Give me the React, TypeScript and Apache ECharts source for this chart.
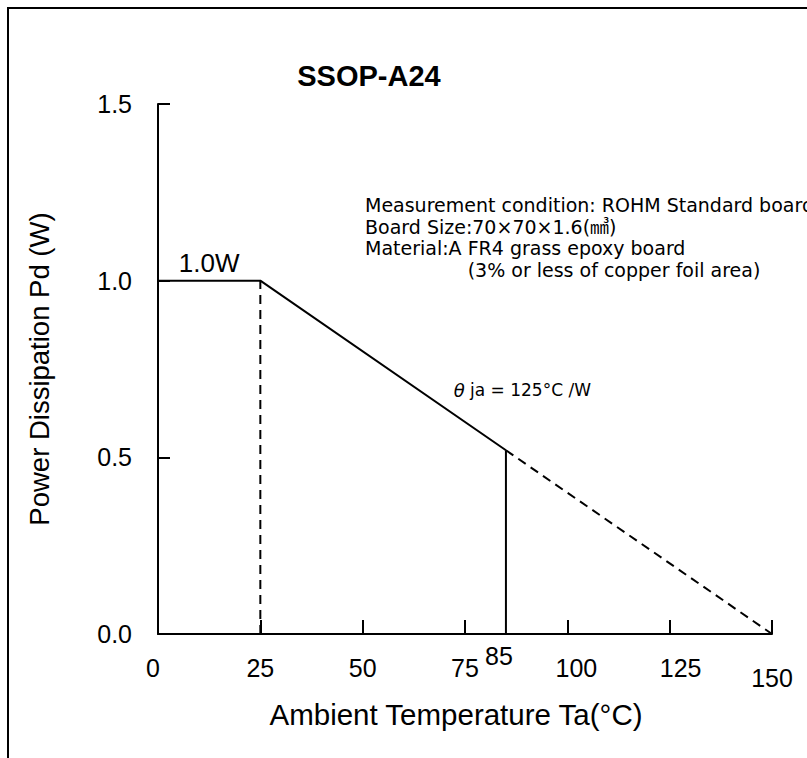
import React, { useEffect, useRef } from "react";
import * as echarts from "echarts";

const chartTitle = "SSOP-A24";
const xAxisName = "Ambient Temperature Ta(°C)";
const yAxisName = "Power Dissipation Pd (W)";
const xMin = 0;
const xMax = 150;
const xInterval = 25;
const yMin = 0;
const yMax = 1.5;
const yInterval = 0.5;
const ratedLine = [[0, 1.0], [25, 1.0], [85, 0.52]];
const extrapolatedLine = [[85, 0.52], [150, 0]];
const kneeDrop = [[25, 0], [25, 1.0]];
const maxTempDrop = [[85, 0], [85, 0.52]];
const ratedLabel = { text: "1.0W", at: [12.5, 1.0] };
const maxTempLabel = { text: "85", at: [85, 0] };
const thetaLabel = { text: "{i|θ} ja = 125°C /W", at: [89, 0.69] };
const conditionLines = [
  "Measurement condition: ROHM Standard board",
  "Board Size:70×70×1.6(㎣)",
  "Material:A FR4 grass epoxy board",
  "                 (3% or less of copper foil area)",
];

const FONT = "'Liberation Sans', Arial, 'Noto Sans CJK JP', sans-serif";
const WIDE = "'DejaVu Sans', 'Liberation Sans', 'Noto Sans CJK JP', sans-serif";

const xLabelStyles: Record<number, string> = { 0: "a", 100: "b", 125: "c", 150: "d" };

export default function App() {
  const ref = useRef<HTMLDivElement>(null);
  useEffect(() => {
    if (!ref.current) return;
    const chart = echarts.init(ref.current, null, { renderer: "svg" });
    const lineStyleSolid = { color: "#000", width: 2, type: "solid" as const };
    const lineStyleDashed = { color: "#000", width: 2, type: [9, 6] as any };
    const labelSeries = (name: string, item: any, label: any) => ({
      name,
      type: "scatter",
      symbolSize: 0,
      silent: true,
      itemStyle: { opacity: 1, color: "#000" },
      data: [item.at],
      label: {
        show: true,
        formatter: item.text,
        color: "#000",
        opacity: 1,
        fontFamily: FONT,
        ...label,
      },
      z: 5,
    });
    const tickText = { fontSize: 25, fontFamily: FONT, color: "#000" };
    chart.setOption({
      animation: false,
      backgroundColor: "#fff",
      grid: { left: 158, top: 104, right: 35, bottom: 124, containLabel: false },
      xAxis: {
        type: "value",
        min: xMin,
        max: xMax,
        interval: xInterval,
        name: xAxisName,
        nameLocation: "middle",
        nameGap: 66,
        nameTextStyle: { fontSize: 29.5, color: "#000", fontFamily: FONT, padding: [0, 18, 0, 0] },
        axisLine: { show: true, onZero: false, lineStyle: { color: "#000", width: 2 } },
        axisTick: { show: true, inside: true, length: 14, lineStyle: { color: "#000", width: 2 } },
        axisLabel: {
          margin: 21,
          ...tickText,
          formatter: (v: number) =>
            xLabelStyles[v] ? "{" + xLabelStyles[v] + "|" + v + "}" : String(v),
          rich: {
            a: { ...tickText, padding: [0, 10, 0, 0] },
            b: { ...tickText, padding: [0, 0, 0, 18] },
            c: { ...tickText, padding: [0, 0, 0, 22] },
            d: { ...tickText, padding: [10, 0, 0, 0] },
          },
        },
        splitLine: { show: false },
      },
      yAxis: {
        type: "value",
        min: yMin,
        max: yMax,
        interval: yInterval,
        name: yAxisName,
        nameLocation: "middle",
        nameGap: 105,
        nameTextStyle: { fontSize: 27.5, color: "#000", fontFamily: FONT },
        axisLine: { show: true, onZero: false, lineStyle: { color: "#000", width: 2 } },
        axisTick: { show: true, inside: true, length: 12, lineStyle: { color: "#000", width: 2 } },
        axisLabel: {
          margin: 26,
          ...tickText,
          formatter: (v: number) => v.toFixed(1),
        },
        splitLine: { show: false },
      },
      graphic: [
        {
          type: "rect",
          shape: { x: 8, y: 8, width: 900, height: 900 },
          style: { fill: "none", stroke: "#000", lineWidth: 2 },
          silent: true,
        },
        {
          type: "text",
          x: 369,
          y: 76,
          style: {
            text: chartTitle,
            fontSize: 29,
            fontWeight: "bold",
            fontFamily: FONT,
            fill: "#000",
            align: "center",
            verticalAlign: "middle",
          },
        },
        {
          type: "text",
          x: 365,
          y: 194,
          style: {
            text: conditionLines.join("\n"),
            fontSize: 19,
            lineHeight: 21.7,
            fontFamily: WIDE,
            fill: "#000",
            align: "left",
            verticalAlign: "top",
          },
        },
      ],
      series: [
        {
          name: "rated",
          type: "line",
          data: ratedLine,
          symbol: "none",
          lineStyle: lineStyleSolid,
          silent: true,
        },
        {
          name: "extrapolated",
          type: "line",
          data: extrapolatedLine,
          symbol: "none",
          lineStyle: lineStyleDashed,
          silent: true,
        },
        {
          name: "knee",
          type: "line",
          data: kneeDrop,
          symbol: "none",
          lineStyle: lineStyleDashed,
          silent: true,
        },
        {
          name: "maxTemp",
          type: "line",
          data: maxTempDrop,
          symbol: "none",
          lineStyle: lineStyleSolid,
          silent: true,
        },
        labelSeries("ratedLabel", ratedLabel, { position: "top", distance: 5, fontSize: 26 }),
        labelSeries("maxTempLabel", maxTempLabel, { position: "bottom", distance: 9, offset: [-7, 0], fontSize: 25 }),
        labelSeries("thetaLabel", thetaLabel, {
          position: "inside",
          fontSize: 17,
          fontFamily: WIDE,
          rich: { i: { fontStyle: "italic", fontSize: 18, fontFamily: WIDE, color: "#000" } },
        }),
      ],
    });
    return () => chart.dispose();
  }, []);
  return (
    <div
      ref={ref}
      style={{ position: "absolute", left: 0, top: 0, width: 807, height: 758 }}
    />
  );
}
